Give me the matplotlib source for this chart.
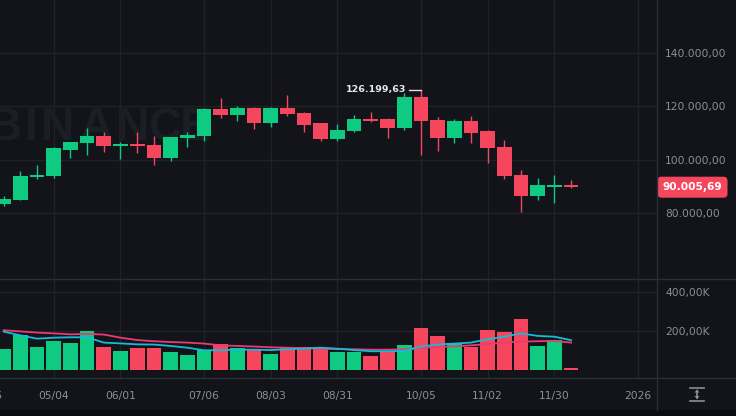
#!/usr/bin/env python3

import numpy as np
import matplotlib
matplotlib.use("Agg")
from matplotlib import pyplot as plt
from matplotlib.patches import FancyBboxPatch, Polygon, Rectangle
from matplotlib.lines import Line2D
from matplotlib.transforms import Affine2D

W, H = 736, 416
BG = "#121419"
GRID = "#1e2229"
SEP = "#2a2e36"
TXT = "#8b9099"
UP = "#0ecb81"
DOWN = "#f6465d"
MA_SLOW = "#ea3a73"
MA_FAST = "#12bddc"
WATERMARK = "#1b1e24"

# weekly candles, 04/13 .. 12/07
opens = [83480, 84970, 93460, 93950, 103790, 106180, 109020, 105060, 105920, 105550,
         100800, 108050, 108910, 119010, 116880, 119380, 113880, 119380, 117400, 113660,
         107900, 110780, 115270, 115270, 111790, 123610, 114890, 108270, 114630, 110780,
         104910, 94320, 86580, 89720, 90470]
highs = [86470, 95820, 98060, 104910, 106850, 111790, 110520, 106670, 110410, 108910,
         108540, 110410, 119380, 123120, 120130, 119570, 119570, 124240, 117700, 113770,
         113400, 116650, 117890, 115460, 125100, 126199.63, 115900, 115270, 116500, 110970,
         107410, 96190, 93310, 94320, 92450]
lows = [82840, 84790, 92720, 93310, 100570, 101800, 103040, 100200, 102550, 98060,
        99560, 104910, 107040, 115530, 114630, 111640, 112390, 116500, 110520, 107150,
        107150, 110590, 114260, 108270, 111150, 101800, 103410, 106400, 106180, 98920,
        92940, 80600, 84970, 83740, 89570]
closes = [85350, 93950, 94320, 104310, 106550, 109020, 105280, 105920, 105300, 100800,
          108420, 109290, 119010, 116880, 119380, 113880, 119380, 117030, 113140, 107900,
          111150, 115160, 114520, 111790, 123610, 114520, 108270, 114520, 110140, 104310,
          94060, 86580, 90580, 90580, 90005.69]
volumes = [110, 178, 117, 148, 137, 200, 119, 97, 112, 112,
           93, 76, 102, 134, 115, 102, 83, 120, 120, 113,
           93, 93, 73, 97, 129, 214, 175, 141, 119, 204,
           193, 260, 122, 153, 14]
vol_ma_slow = [204, 198, 192, 188, 183, 185, 182, 166, 154, 148,
               144, 141, 136, 127, 124, 121, 117, 115, 113, 110,
               108, 107, 105, 105, 107, 115, 119, 122, 127, 134,
               141, 146, 148, 149, 141]
vol_ma_fast = [197, 178, 161, 166, 168, 168, 141, 137, 132, 131,
               124, 115, 102, 102, 105, 105, 103, 107, 110, 115,
               110, 103, 97, 97, 98, 121, 131, 136, 141, 158,
               171, 188, 175, 171, 153]

date_ticks = [-1, 3, 7, 12, 16, 20, 25, 29, 33, 38]
date_labels = ["04/06", "05/04", "06/01", "07/06", "08/03", "08/31",
               "10/05", "11/02", "11/30", "2026"]
price_ticks = [80000, 100000, 120000, 140000]
price_labels = ["80.000,00", "100.000,00", "120.000,00", "140.000,00"]
vol_ticks = [200, 400]
vol_labels = ["200,00K", "400,00K"]

last_price = "90.005,69"
high_label = "126.199,63"
high_idx = 25

# watermark letters and their centre x in pixels
mark_letters = ["B", "I", "N", "A", "N", "C", "E"]
mark_x = [5, 31, 57.5, 96, 132.5, 165, 195]


def main():
    plt.rcParams["font.family"] = ["DejaVu Sans"]
    fig = plt.figure(figsize=(W / 100, H / 100), dpi=100, facecolor=BG)
    px = Affine2D().scale(1, -1).translate(0, H)

    idx = np.arange(len(opens))
    o = np.array(opens)
    c = np.array(closes)
    up = c >= o
    colors = [UP if u else DOWN for u in up]

    # price pane
    ax = fig.add_axes([0, 1 - 279 / H, 656.7 / W, 279 / H], facecolor=BG)
    ax.set_xlim(-0.22, 39.13)
    ax.set_ylim(55430, 159770)
    for ch, xx in zip(mark_letters, mark_x):
        ax.text(xx, 127.5, ch, transform=px, ha="center", va="center",
                fontsize=33, fontweight="bold", family="Liberation Sans",
                color=WATERMARK, zorder=0.5)
    for t in date_ticks:
        ax.axvline(t, color=GRID, lw=1, zorder=0)
    for p in price_ticks:
        ax.axhline(p, color=GRID, lw=1, zorder=0)
    ax.vlines(idx, lows, highs, colors=colors, lw=1, zorder=2)
    body = np.maximum(np.abs(c - o), 600)
    ax.bar(idx, body, bottom=np.minimum(o, c), width=0.88, color=colors,
           linewidth=0, zorder=3)
    ax.plot([high_idx - 0.72, high_idx], [highs[high_idx]] * 2,
            color="#e0e0e0", lw=1, zorder=4)
    ax.text(high_idx - 0.88, highs[high_idx], high_label, ha="right",
            va="center", fontsize=6.8, fontweight="bold", color="#e8e8e8",
            zorder=4)
    ax.yaxis.tick_right()
    ax.set_yticks(price_ticks)
    ax.set_yticklabels(price_labels)
    ax.tick_params(axis="y", length=0, pad=6, labelsize=7.7, labelcolor=TXT)
    ax.set_xticks([])
    for s in ax.spines.values():
        s.set_visible(False)

    # volume pane
    axv = fig.add_axes([0, 1 - 378.3 / H, 656.7 / W, 99.3 / H], facecolor=BG)
    axv.set_xlim(-0.22, 39.13)
    axv.set_ylim(-40.7, 464.6)
    for t in date_ticks:
        axv.axvline(t, color=GRID, lw=1, zorder=0)
    for v in vol_ticks:
        axv.axhline(v, color=GRID, lw=1, zorder=0)
    axv.bar(idx, volumes, width=0.88, color=colors, linewidth=0, zorder=2)
    axv.plot(idx, vol_ma_slow, color=MA_SLOW, lw=1.3, zorder=3)
    axv.plot(idx, vol_ma_fast, color=MA_FAST, lw=1.3, zorder=3)
    axv.yaxis.tick_right()
    axv.set_yticks(vol_ticks)
    axv.set_yticklabels(vol_labels)
    axv.tick_params(axis="y", length=0, pad=6, labelsize=7.7, labelcolor=TXT)
    axv.set_xticks([])
    for s in axv.spines.values():
        s.set_visible(False)
    for t, lab in zip(date_ticks, date_labels):
        axv.text(t, -0.178, lab, transform=axv.get_xaxis_transform(),
                 ha="center", va="center", fontsize=7.7, color=TXT,
                 clip_on=False)

    # separators and bottom strip
    fig.add_artist(Line2D([0, W], [279, 279], transform=px, color=SEP, lw=1))
    fig.add_artist(Line2D([0, W], [378.3, 378.3], transform=px, color=SEP, lw=1))
    fig.add_artist(Line2D([656.7, 656.7], [0, 410], transform=px, color=SEP, lw=1))
    fig.add_artist(Rectangle((0, 410), W, 6, transform=px, color="#0b0c0f", lw=0))

    # last price tag
    fig.add_artist(FancyBboxPatch((657.5, 176.7), 70, 21,
                                  boxstyle="round,pad=0,rounding_size=4",
                                  transform=px, fc=DOWN, ec="none"))
    fig.text(692.5, 187.2, last_price, transform=px, ha="center", va="center",
             fontsize=7.7, fontweight="bold", color="white")

    # auto-scale icon
    for yy in (387.5, 401):
        fig.add_artist(Line2D([690, 704], [yy, yy], transform=px, color=TXT, lw=1.2))
    fig.add_artist(Line2D([697, 697], [391, 397.5], transform=px, color=TXT, lw=1.2))
    fig.add_artist(Polygon([(694.5, 392.5), (699.5, 392.5), (697, 389.5)],
                           closed=True, transform=px, fc=TXT, ec="none"))
    fig.add_artist(Polygon([(694.5, 396), (699.5, 396), (697, 399)],
                           closed=True, transform=px, fc=TXT, ec="none"))

    fig.savefig("out.png", dpi=100, facecolor=BG)


if __name__ == "__main__":
    main()
